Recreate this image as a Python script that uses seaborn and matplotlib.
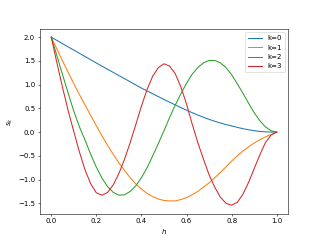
import matplotlib
matplotlib.use("Agg")
import matplotlib.pyplot as plt
import seaborn as sns
import pandas as pd

h = [0.000, 0.025, 0.050, 0.075, 0.100, 0.125, 0.150, 0.175, 0.200, 0.225,
     0.250, 0.275, 0.300, 0.325, 0.350, 0.375, 0.400, 0.425, 0.450, 0.475,
     0.500, 0.525, 0.550, 0.575, 0.600, 0.625, 0.650, 0.675, 0.700, 0.725,
     0.750, 0.775, 0.800, 0.825, 0.850, 0.875, 0.900, 0.925, 0.950, 0.975,
     1.000]

s_k0 = [2.000, 1.932, 1.864, 1.796, 1.728, 1.660, 1.592, 1.524, 1.456, 1.390,
        1.324, 1.258, 1.192, 1.126, 1.060, 0.994, 0.928, 0.868, 0.808, 0.748,
        0.688, 0.630, 0.573, 0.517, 0.462, 0.410, 0.360, 0.313, 0.269, 0.229,
        0.193, 0.160, 0.130, 0.100, 0.073, 0.049, 0.029, 0.015, 0.006, 0.001,
        0.000]
s_k1 = [2.00, 1.75, 1.50, 1.26, 1.02, 0.79, 0.57, 0.35, 0.13, -0.08,
        -0.28, -0.47, -0.65, -0.81, -0.96, -1.09, -1.20, -1.29, -1.36, -1.41,
        -1.44, -1.45, -1.45, -1.42, -1.38, -1.32, -1.25, -1.16, -1.07, -0.96,
        -0.85, -0.73, -0.61, -0.50, -0.40, -0.31, -0.23, -0.16, -0.10, -0.05,
        0.00]
s_k2 = [2.00, 1.61, 1.21, 0.82, 0.44, 0.11, -0.17, -0.47, -0.74, -0.97,
        -1.15, -1.27, -1.33, -1.32, -1.25, -1.13, -0.96, -0.75, -0.50, -0.24,
        0.03, 0.31, 0.57, 0.81, 1.03, 1.22, 1.36, 1.46, 1.51, 1.51,
        1.46, 1.36, 1.21, 1.02, 0.82, 0.61, 0.41, 0.24, 0.11, 0.03,
        0.00]
s_k3 = [2.00, 1.46, 0.94, 0.45, 0.01, -0.42, -0.80, -1.09, -1.28, -1.33,
        -1.27, -1.11, -0.87, -0.57, -0.22, 0.16, 0.55, 0.90, 1.18, 1.36,
        1.44, 1.39, 1.23, 0.95, 0.59, 0.17, -0.22, -0.57, -0.90, -1.16,
        -1.37, -1.50, -1.54, -1.48, -1.31, -1.06, -0.77, -0.48, -0.22, -0.06,
        0.00]

labels = ["k=0", "k=1", "k=2", "k=3"]
series = [s_k0, s_k1, s_k2, s_k3]

rows = []
for lab, ys in zip(labels, series):
    for x, y in zip(h, ys):
        rows.append({"h": x, "s": y, "k": lab})
df = pd.DataFrame(rows)

fig, ax = plt.subplots(figsize=(6.4, 4.8), dpi=50)
sns.lineplot(data=df, x="h", y="s", hue="k", palette="tab10", ax=ax,
             linewidth=1.5, sort=False)
ax.set_xlabel("$h$")
ax.set_ylabel("$s_k$")
ax.legend(loc="upper right", title=None)
fig.savefig("out.png", dpi=50)
